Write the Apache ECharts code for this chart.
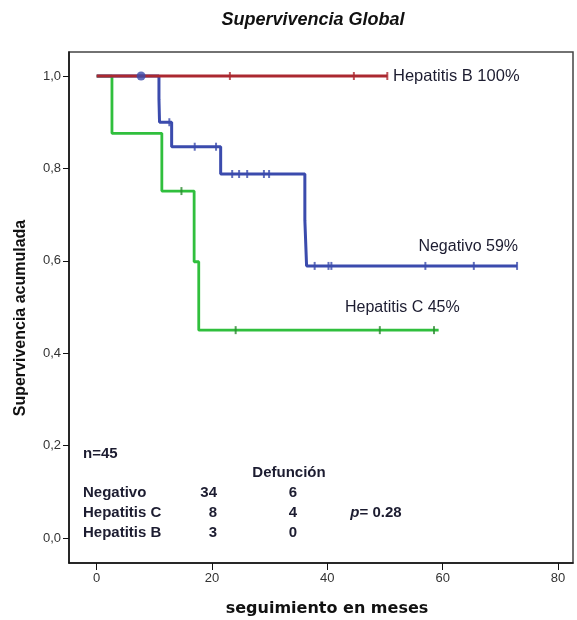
<!DOCTYPE html>
<html>
<head>
<meta charset="utf-8">
<script src="https://cdn.jsdelivr.net/npm/echarts@6/dist/echarts.min.js"></script>
<style>
html,body{margin:0;padding:0;background:#fff;}
#c{width:577px;height:620px;}
</style>
</head>
<body>
<div id="c"></div>
<script>
// ---- data ----
const xTicks = [0, 20, 40, 60, 80];
const yTicks = [0, 0.2, 0.4, 0.6, 0.8, 1.0];

// Hepatitis B (red)
const hbTimes = [0, 50.4];
const hbSurv  = [1.0, 1.0];
const hbCensor = [23.1, 44.6, 50.4];

// Negativo (blue)
const negTimes = [0, 10.8, 10.9, 13.0, 21.5, 36.1, 36.4, 72.9];
const negSurv  = [1.0, 0.95, 0.90, 0.847, 0.788, 0.688, 0.589, 0.589];
const negCensorT = [12.6, 17.0, 20.7, 23.5, 24.7, 26.1, 29.0, 29.9, 37.8, 40.2, 40.7, 57.0, 65.4, 72.9];
const negCensorS = [0.90, 0.847, 0.847, 0.788, 0.788, 0.788, 0.788, 0.788, 0.589, 0.589, 0.589, 0.589, 0.589, 0.589];
const negDot = [7.7, 1.0];

// Hepatitis C (green)
const hcTimes = [0, 2.65, 11.3, 16.9, 17.7, 59.3];
const hcSurv  = [1.0, 0.876, 0.751, 0.598, 0.450, 0.450];
const hcCensorT = [14.7, 24.1, 49.1, 58.5];
const hcCensorS = [0.751, 0.450, 0.450, 0.450];

const curveLabels = ['Hepatitis B 100%', 'Negativo 59%', 'Hepatitis C 45%'];
const tableRows = ['Negativo', 'Hepatitis C', 'Hepatitis B'];
const tableN = ['34', '8', '3'];
const tableDeaths = ['6', '4', '0'];

// ---- chart ----
const RED = '#ab2830', BLUE = '#3b4bad', GREEN = '#30bf3d';
const zip = (a, b) => a.map((v, i) => [v, b[i]]);
const chart = echarts.init(document.getElementById('c'), null, {renderer: 'canvas'});

function lineSeries(t, s, color, w, z) {
  return {type: 'line', step: 'end', data: zip(t, s), symbol: 'none',
    lineStyle: {color: color, width: w}, z: z, silent: true, animation: false};
}
function censorSeries(t, s, color, z) {
  return {type: 'scatter', data: zip(t, s), symbol: 'rect', symbolSize: [2, 8],
    itemStyle: {color: color}, z: z, silent: true, animation: false};
}

const textColor = '#1c1c30';
const tf = 'Liberation Sans, Arial, sans-serif';

const graphics = [
  {type: 'text', x: 313, y: 20, style: {text: 'Supervivencia Global', font: 'italic bold 18px ' + tf, fill: '#111', textAlign: 'center', textVerticalAlign: 'middle'}},
  {type: 'text', x: 21, y: 318, rotation: Math.PI / 2, style: {text: 'Supervivencia acumulada', font: 'bold 16px ' + tf, fill: '#111', textAlign: 'center', textVerticalAlign: 'middle'}},
  {type: 'text', x: 327, y: 609, style: {text: 'seguimiento en meses', font: 'bold 16px DejaVu Sans, sans-serif', fill: '#111', textAlign: 'center', textVerticalAlign: 'middle'}},
  {type: 'text', x: 393, y: 76, style: {text: curveLabels[0], font: '16.5px ' + tf, fill: textColor, textVerticalAlign: 'middle'}},
  {type: 'text', x: 518, y: 247, style: {text: curveLabels[1], font: '16px ' + tf, fill: textColor, textAlign: 'right', textVerticalAlign: 'middle'}},
  {type: 'text', x: 345, y: 308, style: {text: curveLabels[2], font: '16px ' + tf, fill: textColor, textVerticalAlign: 'middle'}},
  {type: 'text', x: 83, y: 454, style: {text: 'n=45', font: 'bold 15px ' + tf, fill: textColor, textVerticalAlign: 'middle'}},
  {type: 'text', x: 289, y: 473, style: {text: 'Defunción', font: 'bold 15px ' + tf, fill: textColor, textAlign: 'center', textVerticalAlign: 'middle'}},
  {type: 'text', x: 376, y: 513, style: {rich: {p: {font: 'italic bold 15px ' + tf, fill: textColor}, r: {font: 'bold 15px ' + tf, fill: textColor}}, text: '{p|p}{r|= 0.28}', textAlign: 'center', textVerticalAlign: 'middle'}}
];
const rowY = [493, 513, 533];
tableRows.forEach((r, i) => {
  graphics.push({type: 'text', x: 83, y: rowY[i], style: {text: r, font: 'bold 15px ' + tf, fill: textColor, textVerticalAlign: 'middle'}});
  graphics.push({type: 'text', x: 217, y: rowY[i], style: {text: tableN[i], font: 'bold 15px ' + tf, fill: textColor, textAlign: 'right', textVerticalAlign: 'middle'}});
  graphics.push({type: 'text', x: 293, y: rowY[i], style: {text: tableDeaths[i], font: 'bold 15px ' + tf, fill: textColor, textAlign: 'center', textVerticalAlign: 'middle'}});
});

chart.setOption({
  animation: false,
  backgroundColor: '#fff',
  grid: {left: 69, right: 4, top: 52, bottom: 57, show: true, borderColor: '#444', borderWidth: 1.5, backgroundColor: '#fff'},
  xAxis: {
    type: 'value', min: -4.8, max: 82.6,
    axisLine: {show: true, onZero: false, lineStyle: {color: '#111', width: 1.5}},
    axisTick: {show: true, length: 7, customValues: xTicks, lineStyle: {color: '#111'}},
    axisLabel: {customValues: xTicks, color: '#333', fontSize: 13, fontFamily: tf, margin: 9},
    splitLine: {show: false}
  },
  yAxis: {
    type: 'value', min: -0.054, max: 1.052,
    axisLine: {show: true, onZero: false, lineStyle: {color: '#111', width: 1.5}},
    axisTick: {show: true, length: 6, customValues: yTicks, lineStyle: {color: '#111'}},
    axisLabel: {customValues: yTicks, color: '#333', fontSize: 13, fontFamily: tf, margin: 8,
      formatter: v => v.toFixed(1).replace('.', ',')},
    splitLine: {show: false}
  },
  series: [
    lineSeries(hcTimes, hcSurv, GREEN, 2.8, 3),
    lineSeries(negTimes, negSurv, BLUE, 3, 4),
    lineSeries(hbTimes, hbSurv, RED, 3, 5),
    censorSeries(hcCensorT, hcCensorS, '#2a8a30', 6),
    censorSeries(negCensorT, negCensorS, BLUE, 7),
    censorSeries(hbCensor, hbCensor.map(() => 1.0), RED, 8),
    {type: 'scatter', data: [negDot], symbol: 'circle', symbolSize: 9, itemStyle: {color: BLUE}, z: 9, silent: true}
  ],
  graphic: graphics
});
</script>
</body>
</html>
